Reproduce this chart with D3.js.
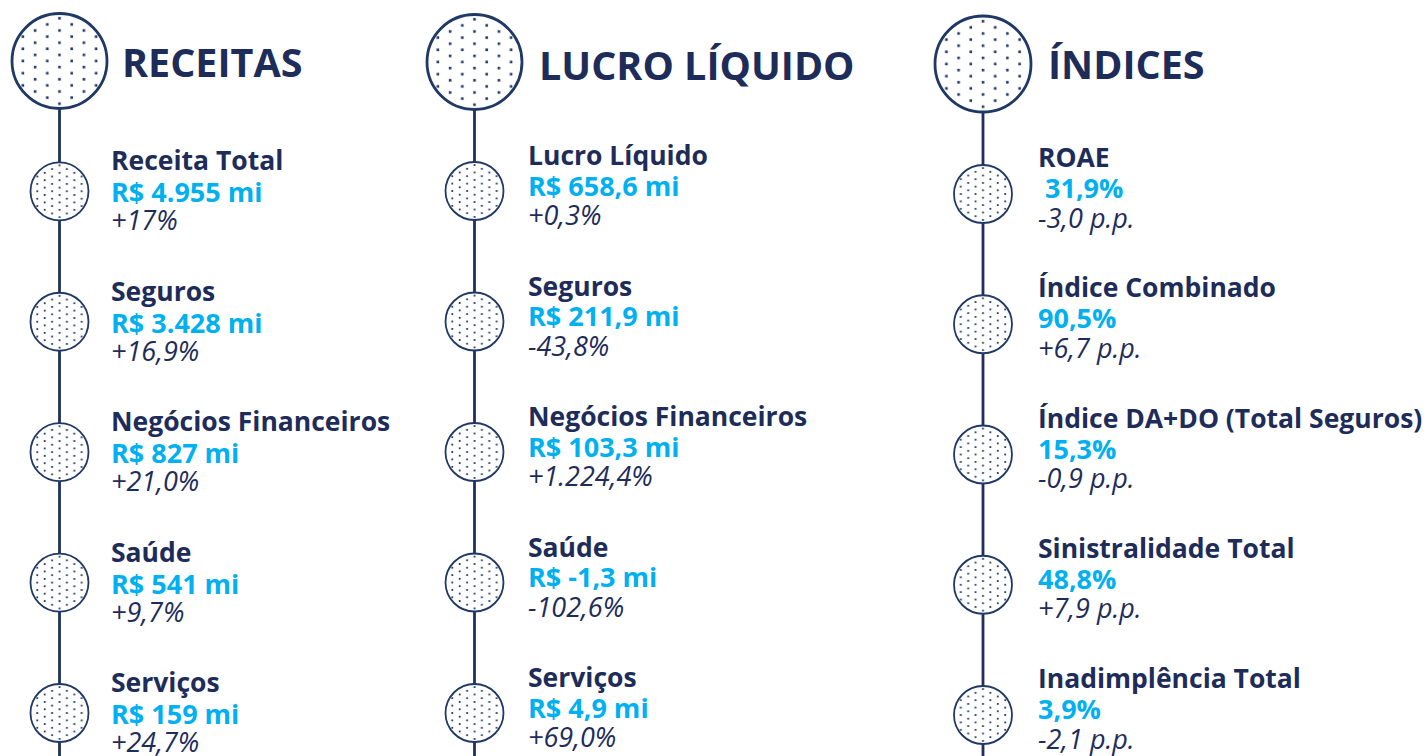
<!DOCTYPE html>
<html><head><meta charset="utf-8">
<script src="https://cdn.jsdelivr.net/npm/d3@7"></script>
<style>
html,body{margin:0;padding:0;background:#fff;}
svg{display:block;}
text{font-family:"Open Sans",Lato,sans-serif;white-space:pre;}
</style>
</head><body>
<svg id="chart" width="1427" height="756"></svg>
<script>
// ---- data ----
const titles = ["RECEITAS", "LUCRO LÍQUIDO", "ÍNDICES"];
const receitasNames = ["Receita Total", "Seguros", "Negócios Financeiros", "Saúde", "Serviços"];
const receitasValues = ["R$ 4.955 mi", "R$ 3.428 mi", "R$ 827 mi", "R$ 541 mi", "R$ 159 mi"];
const receitasChanges = ["+17%", "+16,9%", "+21,0%", "+9,7%", "+24,7%"];
const lucroNames = ["Lucro Líquido", "Seguros", "Negócios Financeiros", "Saúde", "Serviços"];
const lucroValues = ["R$ 658,6 mi", "R$ 211,9 mi", "R$ 103,3 mi", "R$ -1,3 mi", "R$ 4,9 mi"];
const lucroChanges = ["+0,3%", "-43,8%", "+1.224,4%", "-102,6%", "+69,0%"];
const indicesNames = ["ROAE", "Índice Combinado", "Índice DA+DO (Total Seguros)", "Sinistralidade Total", "Inadimplência Total"];
const indicesValues = [" 31,9%", "90,5%", "15,3%", "48,8%", "3,9%"];
const indicesChanges = ["-3,0 p.p.", "+6,7 p.p.", "-0,9 p.p.", "+7,9 p.p.", "-2,1 p.p."];

// ---- layout / style ----
const NAVY = "#1e2c5a", CYAN = "#00b0f0", RING = "#1f3864", LINE = "#1f3060";
const layout = [
  {cx: 59.5, hy: 61, hr: 47.5, y0: 191.3, y4: 713, titleX: 122, titleY: 77, textX: 111, nameDy: -21, valDy: 11, chgDy: 39},
  {cx: 474.5, hy: 62, hr: 47.5, y0: 191, y4: 713, titleX: 539, titleY: 80, textX: 528, nameDy: -26, valDy: 4.5, chgDy: 34},
  {cx: 983, hy: 64, hr: 48, y0: 194, y4: 715, titleX: 1048, titleY: 79, textX: 1038, nameDy: -27, valDy: 4, chgDy: 33.5}
];
const columns = [
  {title: titles[0], names: receitasNames, values: receitasValues, changes: receitasChanges},
  {title: titles[1], names: lucroNames, values: lucroValues, changes: lucroChanges},
  {title: titles[2], names: indicesNames, values: indicesValues, changes: indicesChanges}
];

const svg = d3.select("#chart");
const defs = svg.append("defs");
let patId = 0;

function dottedCircle(g, cx, cy, r, pitch, dot, strokeW) {
  const id = "dots" + (patId++);
  const pat = defs.append("pattern")
    .attr("id", id)
    .attr("patternUnits", "userSpaceOnUse")
    .attr("width", 2 * pitch).attr("height", pitch)
    .attr("x", cx - pitch / 2).attr("y", cy - pitch / 2 - pitch / 4);
  [[pitch / 2, pitch / 4], [3 * pitch / 2, 3 * pitch / 4]].forEach(([x, y]) => {
    pat.append("rect").attr("x", x - dot / 2).attr("y", y - dot / 2)
      .attr("width", dot).attr("height", dot).attr("fill", RING);
  });
  g.append("circle").attr("cx", cx).attr("cy", cy).attr("r", r).attr("fill", "#fff");
  g.append("circle").attr("cx", cx).attr("cy", cy).attr("r", r)
    .attr("fill", `url(#${id})`).attr("stroke", RING).attr("stroke-width", strokeW);
}

columns.forEach((col, ci) => {
  const L = layout[ci];
  const g = svg.append("g");
  const y = d3.scaleLinear().domain([0, col.names.length - 1]).range([L.y0, L.y4]);

  g.append("line")
    .attr("x1", L.cx).attr("x2", L.cx)
    .attr("y1", L.hy + L.hr).attr("y2", 756)
    .attr("stroke", LINE).attr("stroke-width", 2.8);

  dottedCircle(g, L.cx, L.hy, L.hr, 12.2, 2.6, 2.8);
  g.append("text")
    .attr("x", L.titleX).attr("y", L.titleY)
    .attr("fill", NAVY).attr("font-weight", 700).attr("font-size", 39.5)
    .text(col.title);

  col.names.forEach((name, i) => {
    const cy = y(i);
    dottedCircle(g, L.cx, cy, 29, 7.4, 1.8, 1.8);
    g.append("text").attr("x", L.textX).attr("y", cy + L.nameDy)
      .attr("fill", NAVY).attr("font-weight", 700).attr("font-size", 26.5).text(name);
    g.append("text").attr("x", L.textX).attr("y", cy + L.valDy)
      .attr("fill", CYAN).attr("font-weight", 700).attr("font-size", 27).text(col.values[i]);
    g.append("text").attr("x", L.textX).attr("y", cy + L.chgDy)
      .attr("fill", NAVY).attr("font-style", "italic").attr("font-size", 27).text(col.changes[i]);
  });
});
</script>
</body></html>
